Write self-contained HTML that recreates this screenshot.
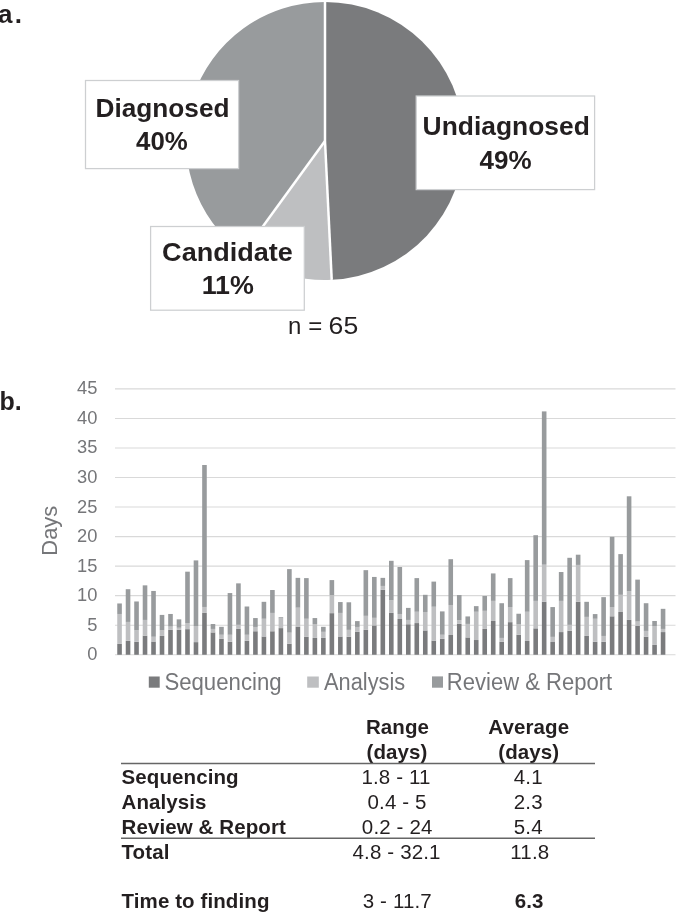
<!DOCTYPE html>
<html><head><meta charset="utf-8"><style>
html,body{margin:0;padding:0;background:#fff;}
svg{display:block;will-change:transform;}
text{font-family:"Liberation Sans",sans-serif;}
.lb{font-weight:bold;font-size:25px;fill:#231f20;}
.tk{font-size:18.3px;fill:#757679;}
.lg{font-size:23.3px;fill:#757679;}
.tb{font-weight:bold;font-size:20.5px;letter-spacing:0.1px;fill:#231f20;}
.tr{font-size:20.5px;letter-spacing:0.15px;fill:#231f20;}
</style></head><body>
<svg width="685" height="913" viewBox="0 0 685 913">
<rect width="685" height="913" fill="#fff"/>
<text x="-2" y="23.1" style="font-weight:bold;font-size:26px;letter-spacing:2.2px;fill:#231f20">a.</text>
<path d="M325.00 141.00 L325.00 2.00 A139.0 139.0 0 0 1 331.72 279.84 Z" fill="#7a7b7d"/><path d="M325.00 141.00 L331.72 279.84 A139.0 139.0 0 0 1 243.30 253.45 Z" fill="#bebfc1"/><path d="M325.00 141.00 L243.30 253.45 A139.0 139.0 0 0 1 325.00 2.00 Z" fill="#989b9d"/><line x1="325.00" y1="141.00" x2="325.00" y2="2.00" stroke="#fff" stroke-width="2.5"/><line x1="325.00" y1="141.00" x2="331.72" y2="279.84" stroke="#fff" stroke-width="2.5"/><line x1="325.00" y1="141.00" x2="243.30" y2="253.45" stroke="#fff" stroke-width="2.5"/>
<rect x="85.5" y="80.5" width="153.1" height="88.1" fill="#fff" stroke="#cdcfd1" stroke-width="1.25"/>
<rect x="416.2" y="96" width="178.4" height="93.6" fill="#fff" stroke="#cdcfd1" stroke-width="1.25"/>
<rect x="150.6" y="226.5" width="153.7" height="83.7" fill="#fff" stroke="#cdcfd1" stroke-width="1.25"/>
<text x="162.5" y="116.6" text-anchor="middle" class="lb" textLength="134" lengthAdjust="spacingAndGlyphs">Diagnosed</text>
<text x="161.9" y="150.1" text-anchor="middle" class="lb" textLength="51.7" lengthAdjust="spacingAndGlyphs">40%</text>
<text x="506.2" y="134.6" text-anchor="middle" class="lb" textLength="167.2" lengthAdjust="spacingAndGlyphs">Undiagnosed</text>
<text x="505.5" y="169" text-anchor="middle" class="lb" textLength="52.1" lengthAdjust="spacingAndGlyphs">49%</text>
<text x="227.5" y="260.6" text-anchor="middle" class="lb" textLength="130.8" lengthAdjust="spacingAndGlyphs">Candidate</text>
<text x="227.8" y="294.1" text-anchor="middle" class="lb" textLength="52.3" lengthAdjust="spacingAndGlyphs">11%</text>
<g style="font-size:24px;fill:#231f20" text-anchor="middle"><text x="294.7" y="333.8">n</text><text x="315.3" y="333.8">=</text><text x="343.4" y="333.8" textLength="29.6" lengthAdjust="spacingAndGlyphs">65</text></g>
<text x="-0.5" y="410.3" style="font-weight:bold;font-size:25px;fill:#231f20">b.</text>
<line x1="115.0" y1="654.75" x2="675.5" y2="654.75" stroke="#d9d9d9" stroke-width="1.1"/><line x1="115.0" y1="625.21" x2="675.5" y2="625.21" stroke="#d9d9d9" stroke-width="1.1"/><line x1="115.0" y1="595.67" x2="675.5" y2="595.67" stroke="#d9d9d9" stroke-width="1.1"/><line x1="115.0" y1="566.13" x2="675.5" y2="566.13" stroke="#d9d9d9" stroke-width="1.1"/><line x1="115.0" y1="536.59" x2="675.5" y2="536.59" stroke="#d9d9d9" stroke-width="1.1"/><line x1="115.0" y1="507.05" x2="675.5" y2="507.05" stroke="#d9d9d9" stroke-width="1.1"/><line x1="115.0" y1="477.51" x2="675.5" y2="477.51" stroke="#d9d9d9" stroke-width="1.1"/><line x1="115.0" y1="447.97" x2="675.5" y2="447.97" stroke="#d9d9d9" stroke-width="1.1"/><line x1="115.0" y1="418.43" x2="675.5" y2="418.43" stroke="#d9d9d9" stroke-width="1.1"/><line x1="115.0" y1="388.89" x2="675.5" y2="388.89" stroke="#d9d9d9" stroke-width="1.1"/><text x="97.4" y="660.25" text-anchor="end" class="tk">0</text><text x="97.4" y="630.71" text-anchor="end" class="tk">5</text><text x="97.4" y="601.17" text-anchor="end" class="tk">10</text><text x="97.4" y="571.63" text-anchor="end" class="tk">15</text><text x="97.4" y="542.09" text-anchor="end" class="tk">20</text><text x="97.4" y="512.55" text-anchor="end" class="tk">25</text><text x="97.4" y="483.01" text-anchor="end" class="tk">30</text><text x="97.4" y="453.47" text-anchor="end" class="tk">35</text><text x="97.4" y="423.93" text-anchor="end" class="tk">40</text><text x="97.4" y="394.39" text-anchor="end" class="tk">45</text><rect x="117.25" y="643.88" width="4.6" height="10.87" fill="#7a7b7d"/><rect x="117.25" y="613.97" width="4.6" height="29.91" fill="#bebfc1"/><rect x="117.25" y="603.46" width="4.6" height="10.51" fill="#989b9d"/><rect x="125.74" y="640.84" width="4.6" height="13.91" fill="#7a7b7d"/><rect x="125.74" y="621.92" width="4.6" height="18.93" fill="#bebfc1"/><rect x="125.74" y="589.21" width="4.6" height="32.71" fill="#989b9d"/><rect x="134.23" y="641.78" width="4.6" height="12.97" fill="#7a7b7d"/><rect x="134.23" y="630.33" width="4.6" height="11.45" fill="#bebfc1"/><rect x="134.23" y="601.47" width="4.6" height="28.86" fill="#989b9d"/><rect x="142.72" y="635.70" width="4.6" height="19.05" fill="#7a7b7d"/><rect x="142.72" y="619.93" width="4.6" height="15.77" fill="#bebfc1"/><rect x="142.72" y="585.35" width="4.6" height="34.58" fill="#989b9d"/><rect x="151.22" y="641.54" width="4.6" height="13.21" fill="#7a7b7d"/><rect x="151.22" y="636.75" width="4.6" height="4.79" fill="#bebfc1"/><rect x="151.22" y="590.96" width="4.6" height="45.79" fill="#989b9d"/><rect x="159.71" y="635.93" width="4.6" height="18.82" fill="#7a7b7d"/><rect x="159.71" y="630.09" width="4.6" height="5.84" fill="#bebfc1"/><rect x="159.71" y="614.91" width="4.6" height="15.19" fill="#989b9d"/><rect x="168.20" y="629.86" width="4.6" height="24.89" fill="#7a7b7d"/><rect x="168.20" y="626.59" width="4.6" height="3.27" fill="#bebfc1"/><rect x="168.20" y="613.97" width="4.6" height="12.62" fill="#989b9d"/><rect x="176.69" y="629.86" width="4.6" height="24.89" fill="#7a7b7d"/><rect x="176.69" y="627.76" width="4.6" height="2.10" fill="#bebfc1"/><rect x="176.69" y="619.35" width="4.6" height="8.41" fill="#989b9d"/><rect x="185.19" y="629.16" width="4.6" height="25.59" fill="#7a7b7d"/><rect x="185.19" y="623.08" width="4.6" height="6.07" fill="#bebfc1"/><rect x="185.19" y="571.68" width="4.6" height="51.40" fill="#989b9d"/><rect x="193.68" y="642.13" width="4.6" height="12.62" fill="#7a7b7d"/><rect x="193.68" y="626.00" width="4.6" height="16.12" fill="#bebfc1"/><rect x="193.68" y="560.40" width="4.6" height="65.60" fill="#989b9d"/><rect x="202.17" y="612.92" width="4.6" height="41.83" fill="#7a7b7d"/><rect x="202.17" y="606.96" width="4.6" height="5.96" fill="#bebfc1"/><rect x="202.17" y="465.00" width="4.6" height="141.96" fill="#989b9d"/><rect x="210.66" y="632.43" width="4.6" height="22.32" fill="#7a7b7d"/><rect x="210.66" y="628.93" width="4.6" height="3.50" fill="#bebfc1"/><rect x="210.66" y="624.02" width="4.6" height="4.91" fill="#989b9d"/><rect x="219.16" y="638.86" width="4.6" height="15.89" fill="#7a7b7d"/><rect x="219.16" y="634.77" width="4.6" height="4.09" fill="#bebfc1"/><rect x="219.16" y="626.82" width="4.6" height="7.94" fill="#989b9d"/><rect x="227.65" y="641.78" width="4.6" height="12.97" fill="#7a7b7d"/><rect x="227.65" y="634.77" width="4.6" height="7.01" fill="#bebfc1"/><rect x="227.65" y="593.06" width="4.6" height="41.71" fill="#989b9d"/><rect x="236.14" y="628.93" width="4.6" height="25.82" fill="#7a7b7d"/><rect x="236.14" y="624.84" width="4.6" height="4.09" fill="#bebfc1"/><rect x="236.14" y="583.36" width="4.6" height="41.47" fill="#989b9d"/><rect x="244.63" y="640.84" width="4.6" height="13.91" fill="#7a7b7d"/><rect x="244.63" y="634.77" width="4.6" height="6.07" fill="#bebfc1"/><rect x="244.63" y="606.50" width="4.6" height="28.27" fill="#989b9d"/><rect x="253.12" y="631.26" width="4.6" height="23.49" fill="#7a7b7d"/><rect x="253.12" y="626.94" width="4.6" height="4.32" fill="#bebfc1"/><rect x="253.12" y="618.06" width="4.6" height="8.88" fill="#989b9d"/><rect x="261.62" y="636.52" width="4.6" height="18.23" fill="#7a7b7d"/><rect x="261.62" y="618.76" width="4.6" height="17.76" fill="#bebfc1"/><rect x="261.62" y="601.82" width="4.6" height="16.94" fill="#989b9d"/><rect x="270.11" y="631.26" width="4.6" height="23.49" fill="#7a7b7d"/><rect x="270.11" y="612.92" width="4.6" height="18.34" fill="#bebfc1"/><rect x="270.11" y="590.02" width="4.6" height="22.90" fill="#989b9d"/><rect x="278.60" y="628.11" width="4.6" height="26.64" fill="#7a7b7d"/><rect x="278.60" y="618.41" width="4.6" height="9.70" fill="#bebfc1"/><rect x="278.60" y="617.24" width="4.6" height="1.17" fill="#989b9d"/><rect x="287.09" y="643.76" width="4.6" height="10.99" fill="#7a7b7d"/><rect x="287.09" y="632.66" width="4.6" height="11.10" fill="#bebfc1"/><rect x="287.09" y="569.11" width="4.6" height="63.55" fill="#989b9d"/><rect x="295.59" y="626.59" width="4.6" height="28.16" fill="#7a7b7d"/><rect x="295.59" y="607.66" width="4.6" height="18.93" fill="#bebfc1"/><rect x="295.59" y="577.87" width="4.6" height="29.79" fill="#989b9d"/><rect x="304.08" y="636.87" width="4.6" height="17.88" fill="#7a7b7d"/><rect x="304.08" y="618.76" width="4.6" height="18.11" fill="#bebfc1"/><rect x="304.08" y="578.11" width="4.6" height="40.65" fill="#989b9d"/><rect x="312.57" y="637.92" width="4.6" height="16.83" fill="#7a7b7d"/><rect x="312.57" y="624.02" width="4.6" height="13.90" fill="#bebfc1"/><rect x="312.57" y="618.06" width="4.6" height="5.96" fill="#989b9d"/><rect x="321.06" y="637.92" width="4.6" height="16.83" fill="#7a7b7d"/><rect x="321.06" y="631.85" width="4.6" height="6.07" fill="#bebfc1"/><rect x="321.06" y="626.82" width="4.6" height="5.02" fill="#989b9d"/><rect x="329.56" y="613.15" width="4.6" height="41.60" fill="#7a7b7d"/><rect x="329.56" y="595.05" width="4.6" height="18.11" fill="#bebfc1"/><rect x="329.56" y="580.09" width="4.6" height="14.95" fill="#989b9d"/><rect x="338.05" y="636.52" width="4.6" height="18.23" fill="#7a7b7d"/><rect x="338.05" y="612.92" width="4.6" height="23.60" fill="#bebfc1"/><rect x="338.05" y="602.06" width="4.6" height="10.86" fill="#989b9d"/><rect x="346.54" y="636.75" width="4.6" height="18.00" fill="#7a7b7d"/><rect x="346.54" y="629.86" width="4.6" height="6.89" fill="#bebfc1"/><rect x="346.54" y="602.29" width="4.6" height="27.57" fill="#989b9d"/><rect x="355.03" y="631.85" width="4.6" height="22.90" fill="#7a7b7d"/><rect x="355.03" y="626.94" width="4.6" height="4.91" fill="#bebfc1"/><rect x="355.03" y="621.10" width="4.6" height="5.84" fill="#989b9d"/><rect x="363.53" y="629.86" width="4.6" height="24.89" fill="#7a7b7d"/><rect x="363.53" y="615.84" width="4.6" height="14.02" fill="#bebfc1"/><rect x="363.53" y="570.16" width="4.6" height="45.68" fill="#989b9d"/><rect x="372.02" y="625.42" width="4.6" height="29.33" fill="#7a7b7d"/><rect x="372.02" y="617.83" width="4.6" height="7.59" fill="#bebfc1"/><rect x="372.02" y="576.94" width="4.6" height="40.89" fill="#989b9d"/><rect x="380.51" y="589.79" width="4.6" height="64.96" fill="#7a7b7d"/><rect x="380.51" y="585.93" width="4.6" height="3.86" fill="#bebfc1"/><rect x="380.51" y="577.87" width="4.6" height="8.06" fill="#989b9d"/><rect x="389.00" y="612.92" width="4.6" height="41.83" fill="#7a7b7d"/><rect x="389.00" y="600.30" width="4.6" height="12.62" fill="#bebfc1"/><rect x="389.00" y="560.82" width="4.6" height="39.49" fill="#989b9d"/><rect x="397.50" y="619.00" width="4.6" height="35.75" fill="#7a7b7d"/><rect x="397.50" y="613.97" width="4.6" height="5.02" fill="#bebfc1"/><rect x="397.50" y="567.01" width="4.6" height="46.96" fill="#989b9d"/><rect x="405.99" y="624.25" width="4.6" height="30.50" fill="#7a7b7d"/><rect x="405.99" y="619.93" width="4.6" height="4.32" fill="#bebfc1"/><rect x="405.99" y="607.90" width="4.6" height="12.03" fill="#989b9d"/><rect x="414.48" y="623.08" width="4.6" height="31.67" fill="#7a7b7d"/><rect x="414.48" y="611.75" width="4.6" height="11.33" fill="#bebfc1"/><rect x="414.48" y="578.11" width="4.6" height="33.64" fill="#989b9d"/><rect x="422.97" y="630.44" width="4.6" height="24.31" fill="#7a7b7d"/><rect x="422.97" y="611.99" width="4.6" height="18.46" fill="#bebfc1"/><rect x="422.97" y="594.81" width="4.6" height="17.17" fill="#989b9d"/><rect x="431.47" y="640.61" width="4.6" height="14.14" fill="#7a7b7d"/><rect x="431.47" y="606.73" width="4.6" height="33.88" fill="#bebfc1"/><rect x="431.47" y="581.61" width="4.6" height="25.12" fill="#989b9d"/><rect x="439.96" y="638.86" width="4.6" height="15.89" fill="#7a7b7d"/><rect x="439.96" y="634.77" width="4.6" height="4.09" fill="#bebfc1"/><rect x="439.96" y="611.40" width="4.6" height="23.36" fill="#989b9d"/><rect x="448.45" y="635.00" width="4.6" height="19.75" fill="#7a7b7d"/><rect x="448.45" y="604.98" width="4.6" height="30.02" fill="#bebfc1"/><rect x="448.45" y="559.20" width="4.6" height="45.78" fill="#989b9d"/><rect x="456.94" y="623.90" width="4.6" height="30.85" fill="#7a7b7d"/><rect x="456.94" y="620.16" width="4.6" height="3.74" fill="#bebfc1"/><rect x="456.94" y="595.05" width="4.6" height="25.12" fill="#989b9d"/><rect x="465.44" y="637.45" width="4.6" height="17.30" fill="#7a7b7d"/><rect x="465.44" y="623.90" width="4.6" height="13.55" fill="#bebfc1"/><rect x="465.44" y="616.43" width="4.6" height="7.48" fill="#989b9d"/><rect x="473.93" y="640.02" width="4.6" height="14.73" fill="#7a7b7d"/><rect x="473.93" y="611.75" width="4.6" height="28.27" fill="#bebfc1"/><rect x="473.93" y="606.14" width="4.6" height="5.61" fill="#989b9d"/><rect x="482.42" y="628.93" width="4.6" height="25.82" fill="#7a7b7d"/><rect x="482.42" y="610.82" width="4.6" height="18.11" fill="#bebfc1"/><rect x="482.42" y="595.98" width="4.6" height="14.84" fill="#989b9d"/><rect x="490.91" y="620.98" width="4.6" height="33.77" fill="#7a7b7d"/><rect x="490.91" y="600.89" width="4.6" height="20.09" fill="#bebfc1"/><rect x="490.91" y="573.43" width="4.6" height="27.45" fill="#989b9d"/><rect x="499.41" y="641.78" width="4.6" height="12.97" fill="#7a7b7d"/><rect x="499.41" y="637.92" width="4.6" height="3.86" fill="#bebfc1"/><rect x="499.41" y="603.22" width="4.6" height="34.70" fill="#989b9d"/><rect x="507.90" y="622.15" width="4.6" height="32.60" fill="#7a7b7d"/><rect x="507.90" y="607.08" width="4.6" height="15.07" fill="#bebfc1"/><rect x="507.90" y="578.11" width="4.6" height="28.97" fill="#989b9d"/><rect x="516.39" y="634.77" width="4.6" height="19.98" fill="#7a7b7d"/><rect x="516.39" y="624.02" width="4.6" height="10.75" fill="#bebfc1"/><rect x="516.39" y="613.74" width="4.6" height="10.28" fill="#989b9d"/><rect x="524.88" y="640.96" width="4.6" height="13.79" fill="#7a7b7d"/><rect x="524.88" y="611.75" width="4.6" height="29.21" fill="#bebfc1"/><rect x="524.88" y="560.10" width="4.6" height="51.65" fill="#989b9d"/><rect x="533.38" y="628.34" width="4.6" height="26.41" fill="#7a7b7d"/><rect x="533.38" y="600.89" width="4.6" height="27.45" fill="#bebfc1"/><rect x="533.38" y="535.20" width="4.6" height="65.69" fill="#989b9d"/><rect x="541.87" y="601.82" width="4.6" height="52.93" fill="#7a7b7d"/><rect x="541.87" y="564.67" width="4.6" height="37.15" fill="#bebfc1"/><rect x="541.87" y="411.40" width="4.6" height="153.27" fill="#989b9d"/><rect x="550.36" y="642.01" width="4.6" height="12.74" fill="#7a7b7d"/><rect x="550.36" y="636.87" width="4.6" height="5.14" fill="#bebfc1"/><rect x="550.36" y="607.08" width="4.6" height="29.79" fill="#989b9d"/><rect x="558.85" y="632.08" width="4.6" height="22.67" fill="#7a7b7d"/><rect x="558.85" y="600.89" width="4.6" height="31.19" fill="#bebfc1"/><rect x="558.85" y="572.03" width="4.6" height="28.86" fill="#989b9d"/><rect x="567.34" y="630.68" width="4.6" height="24.07" fill="#7a7b7d"/><rect x="567.34" y="624.84" width="4.6" height="5.84" fill="#bebfc1"/><rect x="567.34" y="557.80" width="4.6" height="67.04" fill="#989b9d"/><rect x="575.84" y="601.82" width="4.6" height="52.93" fill="#7a7b7d"/><rect x="575.84" y="564.91" width="4.6" height="36.92" fill="#bebfc1"/><rect x="575.84" y="554.70" width="4.6" height="10.21" fill="#989b9d"/><rect x="584.33" y="635.93" width="4.6" height="18.82" fill="#7a7b7d"/><rect x="584.33" y="616.89" width="4.6" height="19.04" fill="#bebfc1"/><rect x="584.33" y="601.82" width="4.6" height="15.07" fill="#989b9d"/><rect x="592.82" y="641.78" width="4.6" height="12.97" fill="#7a7b7d"/><rect x="592.82" y="618.76" width="4.6" height="23.01" fill="#bebfc1"/><rect x="592.82" y="614.09" width="4.6" height="4.67" fill="#989b9d"/><rect x="601.31" y="641.78" width="4.6" height="12.97" fill="#7a7b7d"/><rect x="601.31" y="635.93" width="4.6" height="5.84" fill="#bebfc1"/><rect x="601.31" y="597.15" width="4.6" height="38.79" fill="#989b9d"/><rect x="609.81" y="616.31" width="4.6" height="38.44" fill="#7a7b7d"/><rect x="609.81" y="607.08" width="4.6" height="9.23" fill="#bebfc1"/><rect x="609.81" y="536.80" width="4.6" height="70.28" fill="#989b9d"/><rect x="618.30" y="611.99" width="4.6" height="42.76" fill="#7a7b7d"/><rect x="618.30" y="594.81" width="4.6" height="17.17" fill="#bebfc1"/><rect x="618.30" y="554.10" width="4.6" height="40.71" fill="#989b9d"/><rect x="626.79" y="619.93" width="4.6" height="34.82" fill="#7a7b7d"/><rect x="626.79" y="591.19" width="4.6" height="28.74" fill="#bebfc1"/><rect x="626.79" y="496.30" width="4.6" height="94.89" fill="#989b9d"/><rect x="635.28" y="626.00" width="4.6" height="28.75" fill="#7a7b7d"/><rect x="635.28" y="621.57" width="4.6" height="4.44" fill="#bebfc1"/><rect x="635.28" y="579.63" width="4.6" height="41.94" fill="#989b9d"/><rect x="643.78" y="636.75" width="4.6" height="18.00" fill="#7a7b7d"/><rect x="643.78" y="630.91" width="4.6" height="5.84" fill="#bebfc1"/><rect x="643.78" y="603.22" width="4.6" height="27.69" fill="#989b9d"/><rect x="652.27" y="644.93" width="4.6" height="9.82" fill="#7a7b7d"/><rect x="652.27" y="626.00" width="4.6" height="18.93" fill="#bebfc1"/><rect x="652.27" y="620.98" width="4.6" height="5.02" fill="#989b9d"/><rect x="660.76" y="632.08" width="4.6" height="22.67" fill="#7a7b7d"/><rect x="660.76" y="628.93" width="4.6" height="3.15" fill="#bebfc1"/><rect x="660.76" y="608.83" width="4.6" height="20.09" fill="#989b9d"/>
<text transform="translate(57.3 530.7) rotate(-90)" text-anchor="middle" style="font-size:22px;fill:#757679">Days</text>
<rect x="148.8" y="676.5" width="10.9" height="11.2" fill="#7a7b7d"/>
<text x="164.4" y="689.5" class="lg" textLength="117.2" lengthAdjust="spacingAndGlyphs">Sequencing</text>
<rect x="307.2" y="676.5" width="11.6" height="11.2" fill="#bebfc1"/>
<text x="324.1" y="689.5" class="lg" textLength="81.1" lengthAdjust="spacingAndGlyphs">Analysis</text>
<rect x="432" y="676.4" width="11" height="11.3" fill="#989b9d"/>
<text x="446.8" y="689.5" class="lg" textLength="165.4" lengthAdjust="spacingAndGlyphs">Review &amp; Report</text>
<text x="397.5" y="734.4" text-anchor="middle" class="tb">Range</text>
<text x="397" y="759" text-anchor="middle" class="tb">(days)</text>
<text x="528.8" y="734.4" text-anchor="middle" class="tb">Average</text>
<text x="528.8" y="759" text-anchor="middle" class="tb">(days)</text>
<line x1="121" y1="763.45" x2="595" y2="763.45" stroke="#666" stroke-width="1.4"/>
<text x="121.5" y="783.9" class="tb">Sequencing</text>
<text x="396" y="783.9" text-anchor="middle" class="tr">1.8 - 11</text>
<text x="528.3" y="783.9" text-anchor="middle" class="tr">4.1</text>
<text x="121.5" y="808.7" class="tb">Analysis</text>
<text x="397.1" y="808.7" text-anchor="middle" class="tr">0.4 - 5</text>
<text x="528.3" y="808.7" text-anchor="middle" class="tr">2.3</text>
<text x="121.5" y="833.6" class="tb">Review &amp; Report</text>
<text x="397.2" y="833.6" text-anchor="middle" class="tr">0.2 - 24</text>
<text x="528.3" y="833.6" text-anchor="middle" class="tr">5.4</text>
<line x1="121" y1="838.3" x2="595" y2="838.3" stroke="#666" stroke-width="1.4"/>
<text x="121.5" y="858.75" class="tb">Total</text>
<text x="396.6" y="858.75" text-anchor="middle" class="tr">4.8 - 32.1</text>
<text x="529.8" y="858.75" text-anchor="middle" class="tr">11.8</text>
<text x="121.5" y="908.4" class="tb">Time to finding</text>
<text x="397.3" y="908.4" text-anchor="middle" class="tr">3 - 11.7</text>
<text x="529.2" y="908.4" text-anchor="middle" class="tb">6.3</text>
</svg>
</body></html>
